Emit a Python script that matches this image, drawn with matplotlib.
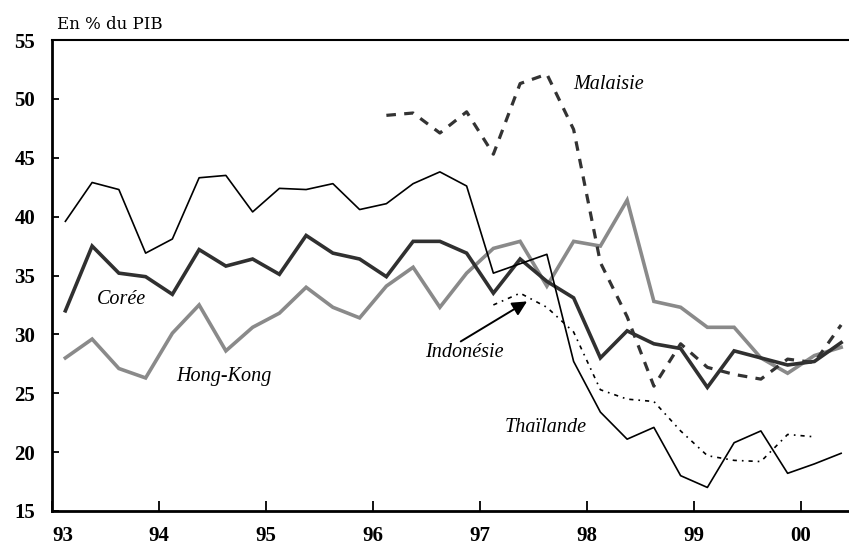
import numpy as np
import pandas as pd
import matplotlib
matplotlib.use("Agg")
import matplotlib.pyplot as plt

# quarterly, in % of GDP
quarters = pd.period_range("1993Q1", "2000Q2", freq="Q")

thailande = [39.6, 42.9, 42.3, 36.9,
             38.1, 43.3, 43.5, 40.4,
             42.4, 42.3, 42.8, 40.6,
             41.1, 42.8, 43.8, 42.6,
             35.2, 36.0, 36.8, 27.7,
             23.4, 21.1, 22.1, 18.0,
             17.0, 20.8, 21.8, 18.2,
             19.0, 19.9]
coree = [32.0, 37.5, 35.2, 34.9,
         33.4, 37.2, 35.8, 36.4,
         35.1, 38.4, 36.9, 36.4,
         34.9, 37.9, 37.9, 36.9,
         33.5, 36.4, 34.5, 33.1,
         28.0, 30.3, 29.2, 28.8,
         25.5, 28.6, 28.0, 27.4,
         27.7, 29.3]
hongkong = [28.0, 29.6, 27.1, 26.3,
            30.1, 32.5, 28.6, 30.6,
            31.8, 34.0, 32.3, 31.4,
            34.1, 35.7, 32.3, 35.2,
            37.3, 37.9, 34.1, 37.9,
            37.5, 41.4, 32.8, 32.3,
            30.6, 30.6, 28.0, 26.7,
            28.2, 28.9]
# Malaisie from 1996Q1, Indonesie from 1997Q1 to 2000Q1
malaisie = [48.6, 48.8, 47.1, 48.9,
            45.3, 51.3, 52.1, 47.4,
            36.1, 31.5, 25.6, 29.2,
            27.2, 26.6, 26.2, 27.9,
            27.6, 30.8]
indonesie = [32.5, 33.5, 32.3, 30.2,
             25.3, 24.5, 24.3, 21.8,
             19.7, 19.3, 19.2, 21.5,
             21.3]

year_ticks = [93, 94, 95, 96, 97, 98, 99, 100]
year_labels = ["93", "94", "95", "96", "97", "98", "99", "00"]
y_ticks = [15, 20, 25, 30, 35, 40, 45, 50, 55]


def xpos(p):
    # quarter centre, years as 93..100
    return p.year - 1900 + (p.quarter - 0.5) / 4


x_all = np.array([xpos(p) for p in quarters])
x_mal = x_all[12:12 + len(malaisie)]
x_ind = x_all[16:16 + len(indonesie)]

plt.rcParams["font.family"] = ["Liberation Serif", "DejaVu Serif"]

fig = plt.figure(figsize=(8.49, 5.45), dpi=100)
ax = fig.add_axes([52 / 849, 34 / 545, 797 / 849, 471 / 545])

ax.plot(x_all, hongkong, color="#8a8a8a", lw=2.6, solid_joinstyle="miter")
ax.plot(x_all, coree, color="#303030", lw=2.6, solid_joinstyle="miter")
ax.plot(x_all, thailande, color="black", lw=1.2)
ax.plot(x_mal, malaisie, color="#333333", lw=2.3, dashes=(3, 2.6))
ax.plot(x_ind, indonesie, color="black", lw=1.2, dashes=(2.5, 3, 1, 3))

ax.set_xlim(93, 93 + 797 / 107)
ax.set_ylim(15, 55)
ax.set_yticks(y_ticks)
ax.set_xticks(year_ticks)
ax.set_xticklabels(year_labels)

ax.spines["right"].set_visible(False)
ax.spines["left"].set_linewidth(2)
ax.spines["bottom"].set_linewidth(2)
ax.spines["top"].set_linewidth(1.5)

ax.tick_params(axis="both", direction="in", width=1.3, labelsize=15)
ax.tick_params(axis="y", length=5, pad=12)
ax.tick_params(axis="x", length=7, pad=11)
for lab in ax.get_xticklabels() + ax.get_yticklabels():
    lab.set_fontweight("bold")
# the first year label sits slightly right of the axis
ax.get_xticklabels()[0].set_horizontalalignment("left")

fig.text(57 / 849, 1 - 29 / 545, "En % du PIB", fontsize=12,
         family=["DejaVu Serif"])

lab_kw = dict(fontsize=14.5, style="italic", ha="center", va="center")
ax.text(98.20, 51.2, "Malaisie", **lab_kw)
ax.text(93.65, 33.0, "Corée", **lab_kw)
ax.text(94.61, 26.4, "Hong-Kong", **lab_kw)
ax.text(96.85, 28.5, "Indonésie", **lab_kw)
ax.text(97.61, 22.1, "Thaïlande", **lab_kw)

ax.annotate("", xy=(97.44, 32.8), xytext=(96.82, 29.4),
            arrowprops=dict(arrowstyle="-|>", color="black", lw=1.4,
                            mutation_scale=22, shrinkA=0, shrinkB=0))

fig.savefig("out.png", dpi=100)
